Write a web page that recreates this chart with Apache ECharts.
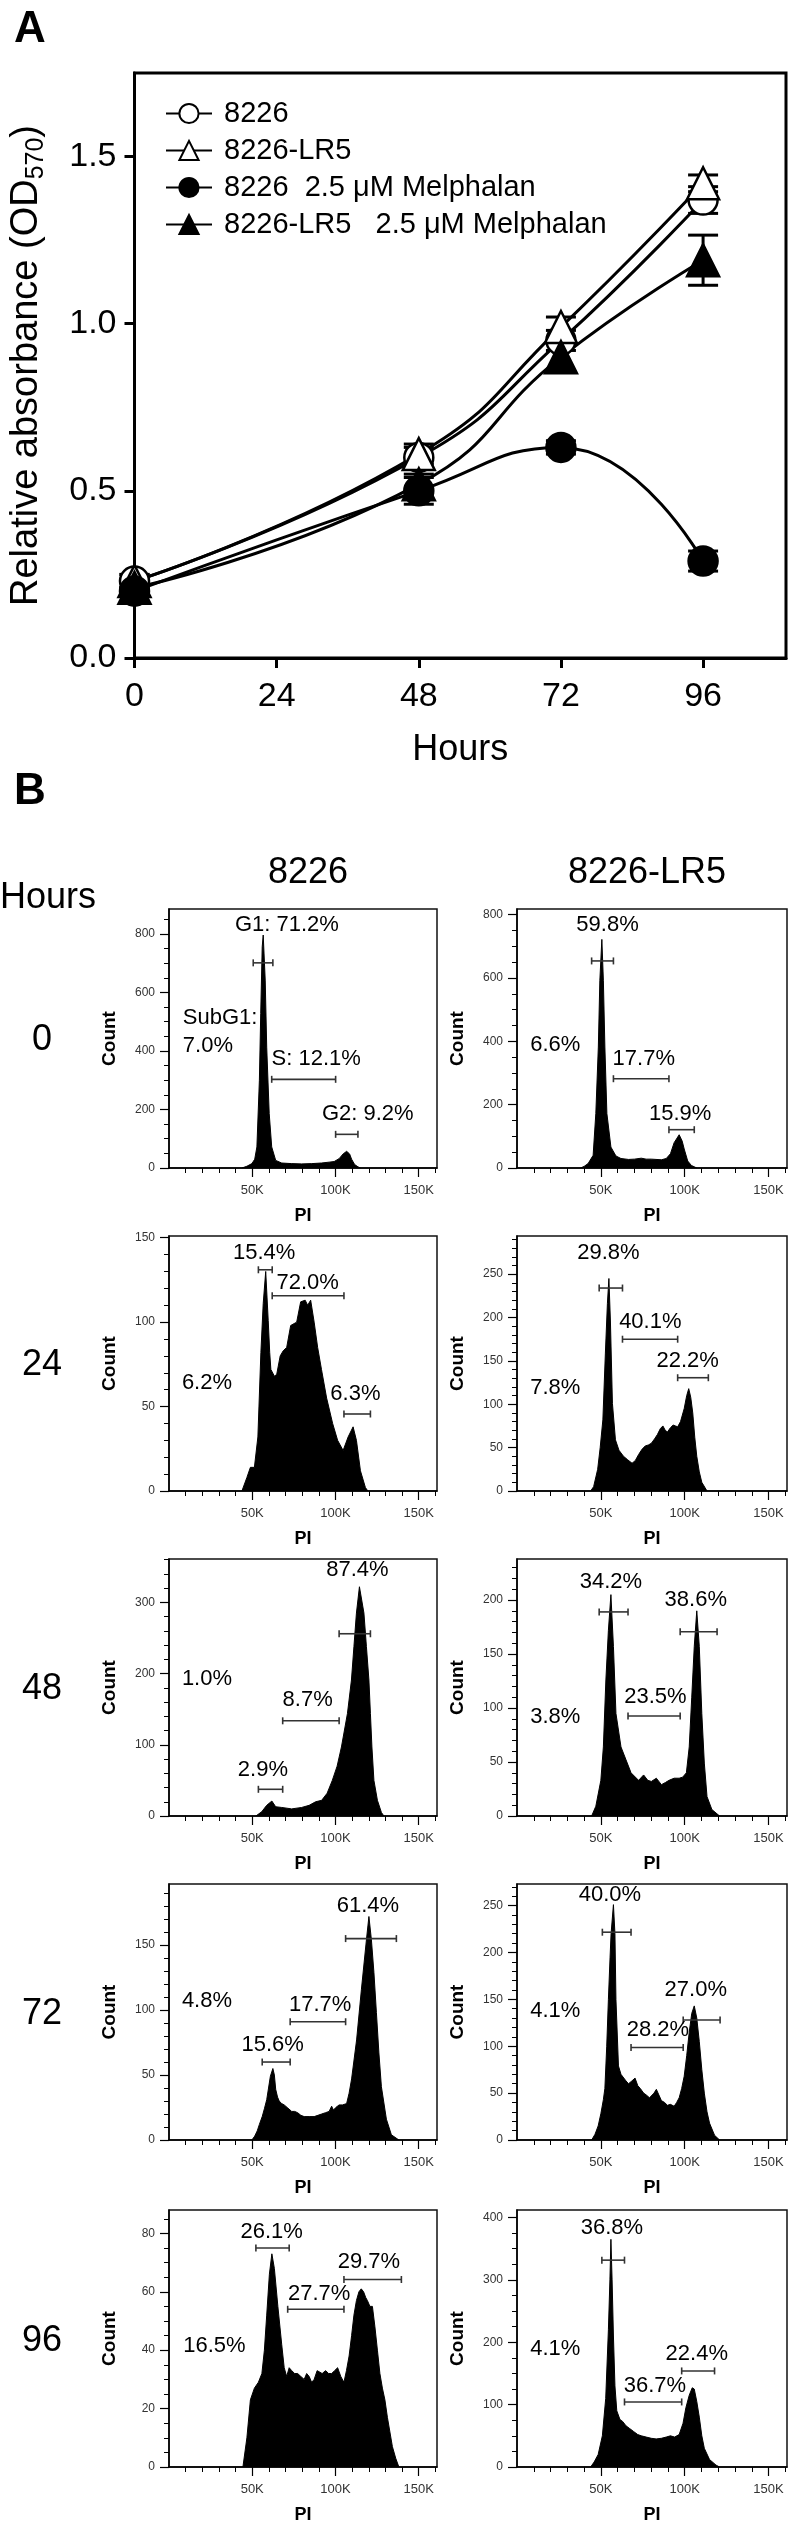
<!DOCTYPE html>
<html>
<head>
<meta charset="utf-8">
<script src="https://cdn.jsdelivr.net/npm/echarts@6/dist/echarts.min.js"></script>
<style>
  html, body { margin: 0; padding: 0; background: #fff; }
  #fig { width: 789px; height: 2525px; }
</style>
</head>
<body>
<div id="fig"></div>
<script>
// ---------- panel A : growth (OD570) ----------
const hourTicks = [0, 24, 48, 72, 96];
const odTicks = [0, 0.5, 1.0, 1.5];
const timePoints = [0, 48, 72, 96];
const od8226 = [0.23, 0.60, 0.95, 1.37];
const odLR5 = [0.23, 0.61, 0.99, 1.42];
const od8226Mel = [0.20, 0.50, 0.63, 0.29];
const odLR5Mel = [0.21, 0.52, 0.90, 1.19];
const err8226 = [0.02, 0.03, 0.03, 0.04];
const errLR5 = [0.02, 0.03, 0.03, 0.025];
const err8226Mel = [0.01, 0.04, 0.02, 0.03];
const errLR5Mel = [0.02, 0.03, 0.04, 0.075];

// ---------- panel B : PI histograms (x in K, y = count) ----------
const rowHours = ['0', '24', '48', '72', '96'];
const cellLines = ['8226', '8226-LR5'];
const piTicks = [50, 100, 150];
const piMinorTicks = [10, 20, 30, 40, 50, 60, 70, 80, 90, 100, 110, 120, 130, 140, 150, 160];

const h8226_0 = [[43.8,0],[46.8,6],[49.8,15],[51.5,30],[52.8,72],[54.3,300],[55.1,528],[56,756],[56.6,796],[57.8,642],[58.7,413],[60.2,186],[61.7,72],[64.1,26],[67.7,17],[73.7,15],[79.7,14],[85.7,15],[91.6,17],[96.2,20],[99.2,22],[102.2,32],[104.6,48],[106.7,57],[108.5,48],[109.7,30],[111.5,12],[113.5,4],[115,0]];
const hLR5_0 = [[37.9,0],[40,5],[42.4,14],[45.4,40],[47,172],[48.5,382],[49.4,593],[50.6,722],[51.5,593],[52.4,382],[53.6,172],[56,66],[59,38],[62,30],[66.5,27],[70,28],[74.1,31],[77,28],[80.1,28],[86.1,26],[89,30],[91.5,45],[93.7,80],[96.7,105],[98.5,85],[99.7,60],[101.8,22],[104,8],[107.2,0]];
const h8226_24 = [[43.8,0],[46.8,8],[48.9,14],[51.3,14],[53.4,32],[55.2,82],[56.6,111],[58.1,130],[59.6,101],[60.5,82],[61.2,72],[63.3,68],[64.7,69],[66.8,80],[68.6,83],[70.7,85],[73.1,98],[76.7,100],[79.1,112],[81.8,113],[83.3,110],[85.1,113],[87.2,100],[89.3,85],[91.6,72],[94.7,55],[98.3,40],[101.3,30],[104.6,24],[107.6,32],[110.6,38],[112.6,30],[115,12],[118,2],[119.5,0]];
const hLR5_24 = [[43.9,0],[45.7,5],[48.1,25],[49.6,50],[51.2,82],[52.7,159],[53.9,216],[54.8,245],[55.7,196],[56.9,101],[58.7,59],[60.8,47],[63.5,40],[66,36],[68.6,32],[70.5,35],[72.5,42],[74.5,48],[76.5,52],[78.3,53],[80.1,55],[82,60],[83.7,65],[85.5,72],[87,75],[88.4,70],[89.7,68],[91.5,73],[93.1,76],[94.5,75],[95.8,74],[97.5,80],[99.7,95],[101.2,110],[102.4,118],[103.6,108],[104.8,90],[106,62],[107.2,40],[108.7,22],[110.2,10],[113.3,0]];
const h8226_48 = [[52.2,0],[55.7,6],[58.7,15],[61.8,21],[64.1,13],[67.7,12],[73.7,10],[79.7,12],[84.2,15],[88.1,20],[91.7,22],[95,32],[98.1,50],[101,70],[103.6,97],[107.2,144],[109.6,191],[111.1,238],[112.6,285],[114.4,322],[117.1,285],[118.6,238],[120.1,191],[121,144],[121.9,97],[123.1,50],[125.2,22],[127.6,5],[129.1,0]];
const hLR5_48 = [[44.5,0],[47,9],[50,33],[51.5,64],[53,126],[54.5,172],[56,205],[57.5,157],[59,95],[62,64],[65,52],[68,40],[72.5,33],[75.5,38],[78,33],[80.1,32],[83.1,35],[86.1,29],[88.5,31],[90.6,33],[93.7,35],[96.7,35],[98.8,36],[101,40],[102.7,64],[104.2,110],[105.7,157],[107.2,190],[108.7,157],[110.2,95],[111.7,49],[113.3,18],[116.2,6],[120.8,0]];
const h8226_72 = [[49.8,0],[51.5,3],[53,7],[54.3,12],[56,18],[57.3,24],[58.7,31],[59.8,40],[60.9,49],[62.4,55],[63.3,50],[64.1,39],[65.2,33],[66.2,30],[67.7,28],[69.2,27],[71,25],[73.7,22],[75.5,22],[77.3,21],[79.2,19],[81.2,18],[84.2,18],[87.2,18],[89.5,19],[91.7,20],[94,21],[96.2,22],[97.7,26],[98.8,23],[100.2,25],[102.2,27],[104.2,27],[106.7,28],[108.2,36],[109.7,47],[112.7,77],[115.6,116],[118.6,154],[120.1,172],[121.6,154],[123.1,129],[124.6,98],[126.1,67],[127.6,41],[130.6,16],[133.6,4],[138.1,0]];
const hLR5_72 = [[44.5,0],[46.5,6],[48.4,15],[50,28],[51.5,43],[52.4,55],[53.5,100],[54.5,150],[55.5,195],[56.1,220],[57.5,251],[58.4,220],[59,150],[60.5,79],[62,70],[65,63],[66.5,60],[68.5,63],[70.4,66],[72,58],[73.5,55],[75.5,50],[77.1,48],[79,45],[80.1,46],[81.7,50],[83.1,54],[84.6,48],[86.1,42],[88,40],[89.7,37],[91.5,38],[93.7,36],[95.2,40],[96.7,45],[98.2,55],[99.7,68],[101.2,90],[102.7,115],[104.2,135],[105.7,143],[107.2,130],[108.7,105],[110.2,75],[111.7,50],[113.3,30],[114.8,18],[117.8,5],[120.8,0]];
const h8226_96 = [[44.4,0],[46.8,10],[48.9,23],[51.3,27],[53.7,29],[55.8,32],[57.3,40],[58.7,52],[60.3,66],[61.8,73],[63.3,68],[65.4,55],[67.7,42],[69.2,34],[70.7,31],[72.2,34],[73.7,33],[75.5,32],[77.3,32],[79.2,31],[81.2,30],[82.7,32],[84.2,31],[85.7,29],[87.2,30],[89,33],[90.2,33],[92,32],[94.1,33],[95.9,32],[97.7,32],[99.5,33],[101.3,34],[103.2,31],[105.1,29],[106.6,33],[108.2,38],[109.7,45],[111.1,52],[112.6,57],[114.1,60],[115.5,61],[116.9,60],[118.2,58],[119.2,57],[120.7,55],[122.2,55],[123.7,48],[125.2,40],[126.7,32],[128.2,27],[129.7,23],[131.2,17],[132.7,12],[134.2,7],[136.2,3],[138.1,0]];
const hLR5_96 = [[43.9,0],[46,8],[48.4,20],[50.9,50],[52.9,110],[54.5,220],[55.4,300],[56,365],[56.7,300],[57.5,210],[58.4,130],[59.5,90],[61.4,76],[63,73],[65,66],[67,62],[69.5,57],[72,52],[74.1,50],[77,48],[80.1,46],[83,45],[86.1,46],[89,48],[91.5,50],[94,48],[96.7,52],[99,70],[100.7,95],[102.7,115],[104.5,127],[105.7,125],[107.2,105],[108.7,80],[110.2,50],[111.7,30],[114.8,12],[118.7,3],[120.8,0]];

// gates: [start K, end K, count level]
const g8226_0 = [[50.6,62.4,701],[61.7,100.1,303],[100.1,113.5,115]];
const gLR5_0 = [[44.5,57.5,654],[57.5,90.6,282],[90.6,105.7,121]];
const g8226_24 = [[53.7,62,131],[62,105.1,115.6],[105.1,121,45.6]];
const gLR5_24 = [[49,62.9,234],[62.9,95.8,175],[95.8,114.1,130.6]];
const g8226_48 = [[53.7,68.3,37.5],[68.3,102.2,133.7],[102.2,121,256]];
const gLR5_48 = [[49,66.2,189],[66.2,97.3,92.6],[97.3,119.3,170.6]];
const g8226_72 = [[56,72.8,60],[72.8,106.1,91],[106.1,136.6,155]];
const gLR5_72 = [[50.9,68,221.6],[68,99.1,98.6],[99.1,121.1,128]];
const g8226_96 = [[52.2,72.2,75],[71.3,105.1,54],[105.1,139.6,64.2]];
const gLR5_96 = [[50.6,64.1,331.6],[64.1,98.2,104.3],[98.2,117.8,154]];

// gate percentages: [K, count, text, align]
const l8226_0 = [[70.8,831,'G1: 71.2%'],[8.3,465,'SubG1:\n7.0%','left'],[88.4,373,'S: 12.1%'],[119.4,185,'G2: 9.2%']];
const lLR5_0 = [[54,768,'59.8%'],[22.8,389,'6.6%'],[75.6,344,'17.7%'],[97.3,171,'15.9%']];
const l8226_24 = [[57.2,141,'15.4%'],[83.3,123.5,'72.0%'],[22.8,63.8,'6.2%'],[112,57.5,'6.3%']];
const lLR5_24 = [[54.5,274,'29.8%'],[79.5,195,'40.1%'],[101.8,150,'22.2%'],[22.8,119.4,'7.8%']];
const l8226_48 = [[113.2,346,'87.4%'],[22.8,192,'1.0%'],[83.3,163,'8.7%'],[56.4,64.7,'2.9%']];
const lLR5_48 = [[56,217,'34.2%'],[106.6,200,'38.6%'],[82.5,110.5,'23.5%'],[22.8,92,'3.8%']];
const l8226_72 = [[119.5,180.5,'61.4%'],[22.8,107,'4.8%'],[90.8,104,'17.7%'],[62.3,72.8,'15.6%']];
const lLR5_72 = [[55.4,261,'40.0%'],[106.6,160,'27.0%'],[84,117.7,'28.2%'],[22.8,138,'4.1%']];
const l8226_96 = [[61.7,80.6,'26.1%'],[120.1,70.2,'29.7%'],[90.2,59.4,'27.7%'],[27.3,41.5,'16.5%']];
const lLR5_96 = [[56.6,383.5,'36.8%'],[107.2,180.8,'22.4%'],[82.2,129.4,'36.7%'],[22.8,190,'4.1%']];

const panels = [
  { hist: h8226_0, gates: g8226_0, labels: l8226_0, yMax: 885, yTicks: [0,200,400,600,800], yMinor: 50 },
  { hist: hLR5_0, gates: gLR5_0, labels: lLR5_0, yMax: 818, yTicks: [0,200,400,600,800], yMinor: 50 },
  { hist: h8226_24, gates: g8226_24, labels: l8226_24, yMax: 151, yTicks: [0,50,100,150], yMinor: 10 },
  { hist: hLR5_24, gates: gLR5_24, labels: lLR5_24, yMax: 294, yTicks: [0,50,100,150,200,250], yMinor: 10 },
  { hist: h8226_48, gates: g8226_48, labels: l8226_48, yMax: 361, yTicks: [0,100,200,300], yMinor: 20 },
  { hist: hLR5_48, gates: gLR5_48, labels: lLR5_48, yMax: 238, yTicks: [0,50,100,150,200], yMinor: 10 },
  { hist: h8226_72, gates: g8226_72, labels: l8226_72, yMax: 197, yTicks: [0,50,100,150], yMinor: 10 },
  { hist: hLR5_72, gates: gLR5_72, labels: lLR5_72, yMax: 273, yTicks: [0,50,100,150,200,250], yMinor: 10 },
  { hist: h8226_96, gates: g8226_96, labels: l8226_96, yMax: 88, yTicks: [0,20,40,60,80], yMinor: 5 },
  { hist: hLR5_96, gates: gLR5_96, labels: lLR5_96, yMax: 412, yTicks: [0,100,200,300,400], yMinor: 25 }
];

// layout of the histogram boxes (pixels)
const rowTop = [909, 1236, 1559, 1884, 2210];
const rowBottom = [1168, 1491, 1816, 2140, 2468];
const colLeft = [169, 517];
const colRight = [437, 787];
const headerX = [308, 647];

const FONT = "'Liberation Sans', Arial, sans-serif";

function minorList(step, max) {
  const out = [];
  for (let v = 0; v <= max + 1e-9; v += step) out.push(Math.round(v * 1000) / 1000);
  return out;
}

let chart = echarts.init(document.getElementById('fig'), null, { renderer: 'canvas' });

const grids = [];
const xAxes = [];
const yAxes = [];
const series = [];
const graphics = [];

// ---- panel A ----
grids.push({ left: 126, top: 73, width: 660, height: 585, show: true, borderColor: '#000', borderWidth: 3 });
xAxes.push({
  type: 'value', gridIndex: 0, min: 0, max: 110, position: 'bottom',
  axisLine: { onZero: false, lineStyle: { color: '#000', width: 3 } },
  axisTick: { customValues: hourTicks, length: 10, lineStyle: { color: '#000', width: 3 } },
  axisLabel: { customValues: hourTicks, fontSize: 34, color: '#000', fontFamily: FONT, margin: 22 },
  splitLine: { show: false },
  name: 'Hours', nameLocation: 'middle', nameGap: 74,
  nameTextStyle: { fontSize: 36, color: '#000', fontFamily: FONT }
});
yAxes.push({
  type: 'value', gridIndex: 0, min: 0, max: 1.75, position: 'left',
  axisLine: { onZero: false, lineStyle: { color: '#000', width: 3 } },
  axisTick: { customValues: odTicks, length: 10, lineStyle: { color: '#000', width: 3 } },
  axisLabel: { customValues: odTicks, formatter: v => v.toFixed(1), fontSize: 34, color: '#000', fontFamily: FONT, margin: 18 },
  splitLine: { show: false },
  name: 'Relative absorbance (OD{s|570})', nameLocation: 'middle', nameGap: 86,
  nameTextStyle: { fontSize: 38, color: '#000', fontFamily: FONT,
    rich: { s: { fontSize: 25, color: '#000', fontFamily: FONT, padding: [18, 0, 0, 0] } } }
});

const growth = [
  { name: '8226', vals: od8226, errs: err8226, symbol: 'circle', size: 29, fill: '#fff' },
  { name: '8226-LR5', vals: odLR5, errs: errLR5, symbol: 'triangle', size: 32, fill: '#fff' },
  { name: '8226  2.5 μM Melphalan', vals: od8226Mel, errs: err8226Mel, symbol: 'circle', size: 29, fill: '#000' },
  { name: '8226-LR5   2.5 μM Melphalan', vals: odLR5Mel, errs: errLR5Mel, symbol: 'triangle', size: 32, fill: '#000' }
];

const errData = [];
growth.forEach(g => {
  timePoints.forEach((t, i) => errData.push([t, g.vals[i], g.errs[i]]));
});
series.push({
  type: 'custom', xAxisIndex: 0, yAxisIndex: 0, z: 3, silent: true,
  data: errData,
  renderItem: function (params, api) {
    const top = api.coord([api.value(0), api.value(1) + api.value(2)]);
    const bot = api.coord([api.value(0), api.value(1) - api.value(2)]);
    const st = { stroke: '#000', lineWidth: 3 };
    return {
      type: 'group', children: [
        { type: 'line', shape: { x1: top[0], y1: top[1], x2: bot[0], y2: bot[1] }, style: st },
        { type: 'line', shape: { x1: top[0] - 15, y1: top[1], x2: top[0] + 15, y2: top[1] }, style: st },
        { type: 'line', shape: { x1: bot[0] - 15, y1: bot[1], x2: bot[0] + 15, y2: bot[1] }, style: st }
      ]
    };
  }
});
growth.forEach(g => {
  series.push({
    name: g.name, type: 'line', xAxisIndex: 0, yAxisIndex: 0, z: 4,
    smooth: true,
    data: timePoints.map((t, i) => [t, g.vals[i]]),
    symbol: g.symbol, symbolSize: g.size, showAllSymbol: true,
    lineStyle: { color: '#000', width: 3 },
    itemStyle: { color: g.fill, borderColor: '#000', borderWidth: 2.5 }
  });
});

// ---- panel B ----
panels.forEach((p, i) => {
  const row = Math.floor(i / 2), col = i % 2;
  const gi = grids.length;
  grids.push({
    left: colLeft[col], top: rowTop[row],
    width: colRight[col] - colLeft[col], height: rowBottom[row] - rowTop[row],
    show: true, borderColor: '#111', borderWidth: 1.5
  });
  const xMinorIdx = xAxes.length;
  xAxes.push({
    type: 'value', gridIndex: gi, min: 0, max: 161, position: 'bottom',
    axisLine: { show: true, onZero: false, lineStyle: { color: '#000', width: 1.5 } },
    axisTick: { customValues: piMinorTicks, length: 5, lineStyle: { color: '#000', width: 1 } },
    axisLabel: { show: false }, splitLine: { show: false }
  });
  xAxes.push({
    type: 'value', gridIndex: gi, min: 0, max: 161, position: 'bottom',
    axisLine: { show: false, onZero: false },
    axisTick: { customValues: piTicks, length: 9, lineStyle: { color: '#000', width: 1.2 } },
    axisLabel: { customValues: piTicks, formatter: v => v + 'K', fontSize: 13, color: '#333', fontFamily: FONT, margin: 16 },
    splitLine: { show: false },
    name: 'PI', nameLocation: 'middle', nameGap: 39,
    nameTextStyle: { fontSize: 18, fontWeight: 'bold', color: '#000', fontFamily: FONT }
  });
  const yMinorIdx = yAxes.length;
  yAxes.push({
    type: 'value', gridIndex: gi, min: 0, max: p.yMax, position: 'left',
    axisLine: { show: true, onZero: false, lineStyle: { color: '#000', width: 1.5 } },
    axisTick: { customValues: minorList(p.yMinor, p.yMax), length: 5, lineStyle: { color: '#000', width: 1 } },
    axisLabel: { show: false }, splitLine: { show: false }
  });
  yAxes.push({
    type: 'value', gridIndex: gi, min: 0, max: p.yMax, position: 'left',
    axisLine: { show: false, onZero: false },
    axisTick: { customValues: p.yTicks, length: 9, lineStyle: { color: '#000', width: 1.2 } },
    axisLabel: { customValues: p.yTicks, fontSize: 12, color: '#333', fontFamily: FONT, margin: 14 },
    splitLine: { show: false },
    name: 'Count', nameLocation: 'middle', nameGap: 50,
    nameTextStyle: { fontSize: 19, fontWeight: 'bold', color: '#000', fontFamily: FONT }
  });

  series.push({
    type: 'line', xAxisIndex: xMinorIdx, yAxisIndex: yMinorIdx, z: 2, silent: true,
    data: p.hist, symbol: 'none',
    lineStyle: { color: '#000', width: 1 },
    areaStyle: { color: '#000', opacity: 1 }
  });
  series.push({
    type: 'custom', xAxisIndex: xMinorIdx, yAxisIndex: yMinorIdx, z: 5, silent: true,
    data: p.gates, encode: { x: [0, 1], y: 2 },
    renderItem: function (params, api) {
      const a = api.coord([api.value(0), api.value(2)]);
      const b = api.coord([api.value(1), api.value(2)]);
      const st = { stroke: '#333', lineWidth: 1.6 };
      return {
        type: 'group', children: [
          { type: 'line', shape: { x1: a[0], y1: a[1], x2: b[0], y2: b[1] }, style: st },
          { type: 'line', shape: { x1: a[0], y1: a[1] - 3.5, x2: a[0], y2: a[1] + 3.5 }, style: st },
          { type: 'line', shape: { x1: b[0], y1: b[1] - 3.5, x2: b[0], y2: b[1] + 3.5 }, style: st }
        ]
      };
    }
  });
  series.push({
    type: 'custom', xAxisIndex: xMinorIdx, yAxisIndex: yMinorIdx, z: 6, silent: true,
    data: p.labels.map(l => [l[0], l[1]]),
    renderItem: function (params, api) {
      const lab = p.labels[params.dataIndex];
      const pt = api.coord([lab[0], lab[1]]);
      const al = lab[3] || 'center';
      return {
        type: 'text', x: pt[0], y: pt[1],
        style: {
          text: lab[2], fill: '#000', fontSize: 22, fontFamily: FONT,
          align: al, verticalAlign: 'middle', lineHeight: 28
        }
      };
    }
  });
});

// ---- figure texts ----
graphics.push({ type: 'text', left: 14, top: 8, style: { text: 'A', font: 'bold 44px ' + FONT, fill: '#000' } });
graphics.push({ type: 'text', left: 14, top: 770, style: { text: 'B', font: 'bold 44px ' + FONT, fill: '#000' } });
graphics.push({ type: 'text', x: 48, y: 898, style: { text: 'Hours', font: '36px ' + FONT, fill: '#000', align: 'center', verticalAlign: 'middle' } });
cellLines.forEach((c, k) => {
  graphics.push({ type: 'text', x: headerX[k], y: 873, style: { text: c, font: '36px ' + FONT, fill: '#000', align: 'center', verticalAlign: 'middle' } });
});
rowHours.forEach((h, r) => {
  graphics.push({ type: 'text', x: 42, y: (rowTop[r] + rowBottom[r]) / 2 + 2, style: { text: h, font: '36px ' + FONT, fill: '#000', align: 'center', verticalAlign: 'middle' } });
});

const option = {
  animation: false,
  backgroundColor: '#fff',
  textStyle: { fontFamily: FONT },
  legend: {
    data: growth.map(g => g.name),
    left: 160, top: 94, orient: 'vertical',
    itemWidth: 46, itemHeight: 24, itemGap: 8,
    selectedMode: false,
    textStyle: { fontSize: 29, color: '#000', fontFamily: FONT, padding: [0, 0, 0, 7] }
  },
  grid: grids,
  xAxis: xAxes,
  yAxis: yAxes,
  series: series,
  graphic: graphics
};

chart.setOption(option);
</script>
</body>
</html>
